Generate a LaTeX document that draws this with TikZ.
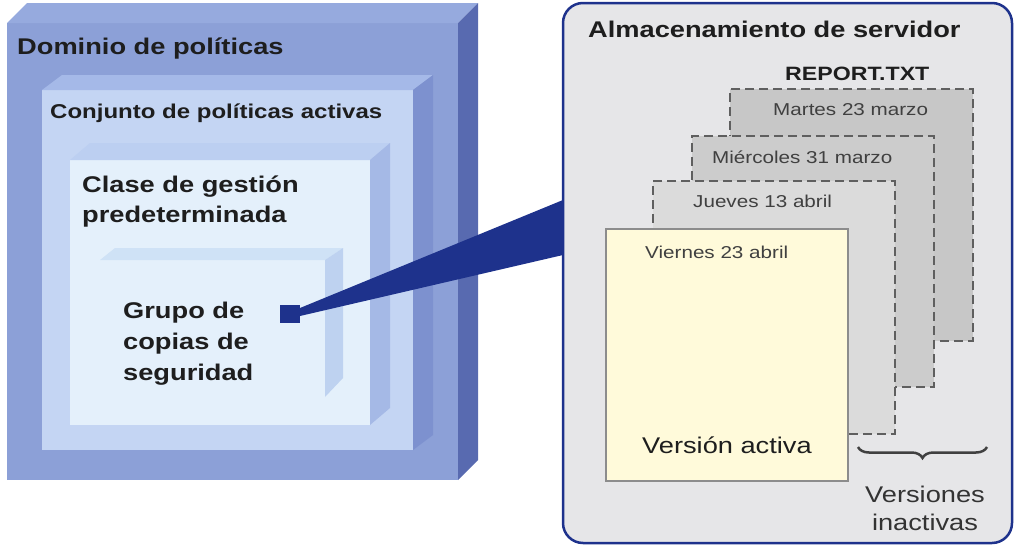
\documentclass[tikz,border=0pt]{standalone}
\usepackage{fontspec}
\setmainfont{Liberation Sans}[FakeStretch=1.2]
\usetikzlibrary{positioning, decorations.pathreplacing, calc}
\definecolor{domfront}{RGB}{140,160,215}
\definecolor{domtop}{RGB}{150,170,222}
\definecolor{domside}{RGB}{88,106,176}
\definecolor{conjfront}{RGB}{196,213,243}
\definecolor{conjtop}{RGB}{165,185,232}
\definecolor{conjside}{RGB}{125,145,207}
\definecolor{clasefront}{RGB}{228,240,251}
\definecolor{clasetop}{RGB}{188,207,241}
\definecolor{claseside}{RGB}{165,185,230}
\definecolor{grupotop}{RGB}{207,226,246}
\definecolor{gruposide}{RGB}{190,210,240}
\definecolor{azulcuña}{RGB}{30,50,140}
\definecolor{srvfill}{RGB}{230,230,232}
\definecolor{txtdark}{RGB}{30,30,30}
\definecolor{dashgray}{RGB}{95,95,95}
\definecolor{activafill}{RGB}{255,250,218}
\begin{document}
\begin{tikzpicture}[x=1pt, y=-1pt,
      box/.style={rectangle, inner sep=0, outer sep=0, draw=none},
      lbl/.style={inner sep=0, anchor=base west, text=txtdark},
      bigb/.style={font=\fontsize{22.7}{30}\selectfont\bfseries},
      datelbl/.style={lbl, text=black!75, font=\fontsize{17.2}{20}\selectfont},
      verbox/.style={box, draw=dashgray, line width=1.3pt, dash pattern=on 9pt off 5pt}]
      \useasboundingbox (0,0) rectangle (1015,546);
      % Dominio de politicas
      \node[box, fill=domfront, minimum width=451, minimum height=457] (dom) at (232.5,251.5) {};
      \fill[domtop] (dom.north west) -- ++(20,-20) -- ($(dom.north east)+(20,-20)$) -- (dom.north east) -- cycle;
      \fill[domside] (dom.north east) -- ++(20,-20) -- ($(dom.south east)+(20,-20)$) -- (dom.south east) -- cycle;
      \node[lbl, font=\fontsize{22.7}{30}\selectfont\bfseries] (domtxt) at (17,54) {Dominio de políticas};
      % Conjunto de politicas activas
      \node[box, fill=conjfront, minimum width=371, minimum height=360] (conj) at (227.5,270) {};
      \fill[conjtop] (conj.north west) -- ++(20,-15) -- ($(conj.north east)+(20,-15)$) -- (conj.north east) -- cycle;
      \fill[conjside] (conj.north east) -- ++(20,-15) -- ($(conj.south east)+(20,-15)$) -- (conj.south east) -- cycle;
      \node[lbl, font=\fontsize{20}{24}\selectfont\bfseries] (conjtxt) at (50,118) {Conjunto de políticas activas};
      % Clase de gestion
      \node[box, fill=clasefront, minimum width=300, minimum height=265] (clase) at (220,292.5) {};
      \fill[clasetop] (clase.north west) -- ++(20,-17) -- ($(clase.north east)+(20,-17)$) -- (clase.north east) -- cycle;
      \fill[claseside] (clase.north east) -- ++(20,-17) -- ($(clase.south east)+(20,-17)$) -- (clase.south east) -- cycle;
      \node[lbl, bigb, align=left] (clasetxt) at (82,222) {Clase de gestión\\predeterminada};
      % Grupo de copias de seguridad
      \node[box, fill=clasefront, minimum width=225, minimum height=137] (grupo) at (212.5,328.5) {};
      \fill[grupotop] (grupo.north west) -- ++(15,-12) -- ($(grupo.north east)+(18,-12)$) -- (grupo.north east) -- cycle;
      \fill[gruposide] (grupo.north east) -- ++(18,-12) -- ($(grupo.south east)+(18,-19)$) -- (grupo.south east) -- cycle;
      \node[lbl, font=\fontsize{22.7}{31}\selectfont\bfseries, align=left] (grupotxt) at (123,380) {Grupo de\\copias de\\seguridad};
      % Almacenamiento de servidor
      \node[box, draw=azulcuña, line width=2.5pt, fill=srvfill, rounded corners=20pt,
            minimum width=449, minimum height=540] (srv) at (787.5,273) {};
      \node[lbl, bigb] (srvtxt) at (588,37) {Almacenamiento de servidor};
      \node[lbl, font=\fontsize{19.3}{22}\selectfont\bfseries] (report) at (785,80) {REPORT.TXT};
      % versiones
      \node[verbox, fill=black!22, minimum width=243, minimum height=252] (martes) at (851.5,215) {};
      \node[datelbl] at (773,115) {Martes 23 marzo};
      \node[verbox, fill=black!20, minimum width=242, minimum height=251] (mierc) at (813,261.5) {};
      \node[datelbl] at (712,163) {Miércoles 31 marzo};
      \node[verbox, fill=black!14, minimum width=242, minimum height=253] (jueves) at (774,307.5) {};
      \node[datelbl] at (693,207) {Jueves 13 abril};
      \node[box, draw=black!45, line width=1.2pt, fill=activafill, minimum width=242, minimum height=252] (activa) at (727,355) {};
      \node[datelbl] at (645,258) {Viernes 23 abril};
      \node[lbl, font=\fontsize{22.7}{30}\selectfont] (activatxt) at (642,453) {Versión activa};
      % Versiones inactivas
      \coordinate (brl) at (858,447);
      \coordinate (brr) at (987,447);
      \draw[black!75, line width=2.5pt, decorate, decoration={brace, amplitude=11pt, mirror}] (brl) -- (brr);
      \node[inner sep=0, anchor=base, align=center, text=black!80, font=\fontsize{22.7}{28}\selectfont] (inact) at (925,530) {Versiones\\inactivas};
      % cuña
      \node[box, fill=azulcuña, minimum width=20, minimum height=18] (sq) at (290,314) {};
      \coordinate (wtop) at (563,200);
      \coordinate (wbot) at (563,255);
      \fill[azulcuña] ($(sq.east)+(0,-6)$) -- (wtop) -- (wbot) -- ($(sq.east)+(0,2)$) -- cycle;
    \end{tikzpicture}
\end{document}
